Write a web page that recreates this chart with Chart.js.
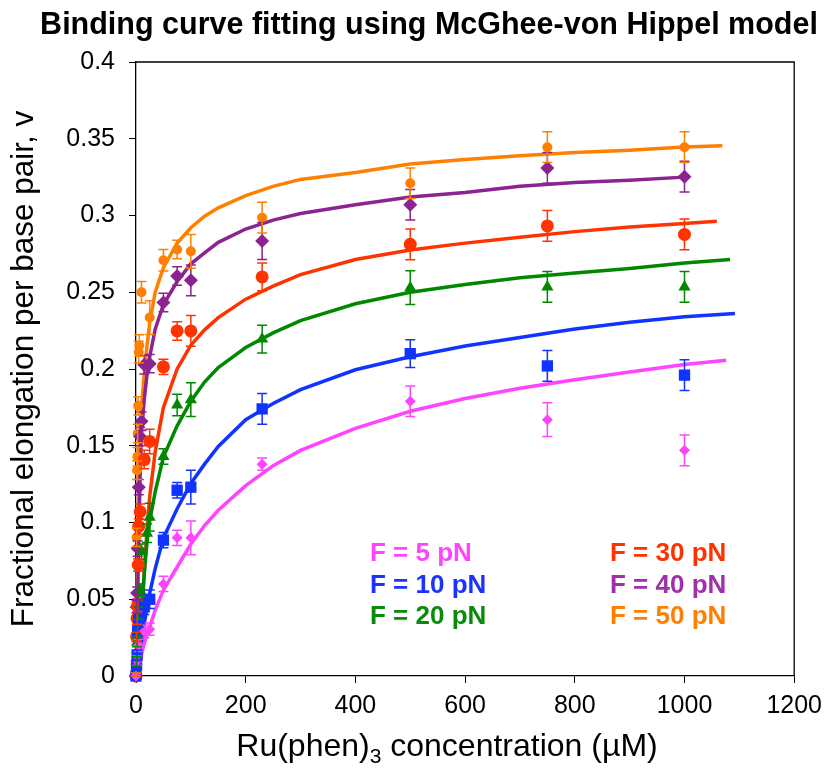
<!DOCTYPE html>
<html>
<head>
<meta charset="utf-8">
<title>Binding curve fitting using McGhee-von Hippel model</title>
<script src="https://cdn.jsdelivr.net/npm/chart.js@4.4.1/dist/chart.umd.min.js"></script>
<style>
  html, body { margin: 0; padding: 0; background: #ffffff; }
  #wrap { width: 830px; height: 772px; }
</style>
</head>
<body>
<div id="wrap"><canvas id="bindingChart" width="830" height="772"></canvas></div>
<script>
const chartTitle = "Binding curve fitting using McGhee-von Hippel model";
const yTitle = "Fractional elongation per base pair, v";
const xTicks = [0, 200, 400, 600, 800, 1000, 1200];
const yTicks = [0, 0.05, 0.1, 0.15, 0.2, 0.25, 0.3, 0.35, 0.4];

const forceLabels = ["F = 5 pN", "F = 10 pN", "F = 20 pN", "F = 30 pN", "F = 40 pN", "F = 50 pN"];
const lineColors = ["#ff44ff", "#1133ff", "#008800", "#ff3300", "#8b2390", "#ff8000"];
const legendColors = ["#ff44ff", "#1a33ff", "#0a8a0a", "#ff3300", "#a030a8", "#ff8000"];
const markerStyles = ["rectRot", "rect", "triangle", "circle", "rectRot", "circle"];
const markerSizes = [5.5, 8, 7, 6.5, 7, 5];

// measured points: concentration (uM), v, error
const conc5 = [0, 2, 5, 15, 25, 50, 75, 100, 230, 500, 750, 1000];
const v5 = [0, 0.01, 0.02, 0.029, 0.0305, 0.06, 0.09, 0.09, 0.138, 0.179, 0.167, 0.147];
const err5 = [0.002, 0.003, 0.004, 0.004, 0.004, 0.005, 0.005, 0.011, 0.004, 0.01, 0.011, 0.01];

const conc10 = [0, 1, 2, 3, 5, 10, 15, 25, 50, 75, 100, 230, 500, 750, 1000];
const v10 = [0, 0.007, 0.0137, 0.029, 0.036, 0.0415, 0.045, 0.05, 0.0885, 0.121, 0.123, 0.174, 0.21, 0.202, 0.196];
const err10 = [0.002, 0.003, 0.003, 0.004, 0.004, 0.004, 0.005, 0.006, 0.005, 0.005, 0.011, 0.01, 0.009, 0.01, 0.01];

const conc20 = [0, 1, 2, 3, 5, 7.5, 10, 20, 25, 50, 75, 100, 230, 500, 750, 1000];
const v20 = [0, 0.0095, 0.022, 0.03, 0.041, 0.056, 0.081, 0.093, 0.1035, 0.143, 0.1765, 0.18, 0.2195, 0.253, 0.2535, 0.2535];
const err20 = [0.002, 0.003, 0.003, 0.004, 0.004, 0.004, 0.005, 0.006, 0.009, 0.005, 0.007, 0.011, 0.009, 0.011, 0.01, 0.01];

const conc30 = [0, 1, 2, 3, 4, 5, 7.5, 15, 25, 50, 75, 100, 230, 500, 750, 1000];
const v30 = [0, 0.0255, 0.0375, 0.046, 0.0723, 0.0975, 0.107, 0.141, 0.1528, 0.2014, 0.2248, 0.2248, 0.26, 0.2812, 0.2932, 0.2877];
const err30 = [0.002, 0.003, 0.004, 0.004, 0.004, 0.005, 0.005, 0.006, 0.008, 0.005, 0.006, 0.01, 0.009, 0.01, 0.01, 0.01];

const conc40 = [0, 1, 2, 3, 5, 7.5, 10, 15, 25, 50, 75, 100, 230, 500, 750, 1000];
const v40 = [0, 0.045, 0.054, 0.083, 0.123, 0.156, 0.166, 0.2028, 0.2035, 0.2433, 0.2606, 0.2578, 0.2834, 0.307, 0.331, 0.3253];
const err40 = [0.002, 0.004, 0.004, 0.005, 0.005, 0.006, 0.006, 0.006, 0.006, 0.006, 0.006, 0.01, 0.012, 0.01, 0.01, 0.01];

const conc50 = [0, 1, 2, 2.5, 3, 4, 5, 6, 10, 25, 50, 75, 100, 230, 500, 750, 1000];
const v50 = [0, 0.0903, 0.134, 0.1428, 0.158, 0.176, 0.2111, 0.2153, 0.25, 0.2335, 0.2708, 0.2778, 0.2767, 0.2986, 0.321, 0.3445, 0.3445];
const err50 = [0.002, 0.006, 0.006, 0.006, 0.006, 0.006, 0.007, 0.007, 0.007, 0.011, 0.007, 0.006, 0.011, 0.01, 0.01, 0.01, 0.01];

// fitted curves
const fitX = [0, 2.5, 5, 7.5, 10, 15, 20, 25, 35, 50, 75, 100, 125, 150, 200, 250, 300, 400, 500, 600, 700, 800, 900, 1000];
const fit5 = [0, 0.002, 0.005, 0.009, 0.014, 0.021, 0.027, 0.032, 0.043, 0.056, 0.071, 0.086, 0.098, 0.108, 0.124, 0.137, 0.147, 0.1613, 0.1725, 0.1808, 0.1875, 0.193, 0.198, 0.203];
const fit10 = [0, 0.001, 0.004, 0.011, 0.019, 0.034, 0.045, 0.054, 0.07, 0.09, 0.109, 0.1255, 0.138, 0.1495, 0.167, 0.1775, 0.1865, 0.1995, 0.208, 0.215, 0.2205, 0.226, 0.2305, 0.234];
const fit20 = [0, 0.003, 0.015, 0.033, 0.045, 0.066, 0.087, 0.101, 0.12, 0.1428, 0.163, 0.179, 0.1915, 0.201, 0.214, 0.2235, 0.2315, 0.2425, 0.25, 0.255, 0.2595, 0.2625, 0.2655, 0.269];
const fit30 = [0, 0.003, 0.01, 0.02, 0.03, 0.068, 0.095, 0.117, 0.146, 0.175, 0.2, 0.2155, 0.2255, 0.2335, 0.2455, 0.254, 0.2615, 0.2713, 0.2775, 0.282, 0.2858, 0.2895, 0.2925, 0.2948];
const fit40 = [0, 0.04, 0.09, 0.13, 0.158, 0.18, 0.196, 0.208, 0.226, 0.242, 0.257, 0.2685, 0.2757, 0.2825, 0.2912, 0.297, 0.3013, 0.307, 0.312, 0.315, 0.319, 0.3215, 0.323, 0.325];
const fit50 = [0, 0.07, 0.13, 0.158, 0.175, 0.197, 0.215, 0.23, 0.25, 0.266, 0.282, 0.292, 0.2995, 0.305, 0.313, 0.319, 0.3235, 0.328, 0.3335, 0.3365, 0.339, 0.341, 0.3425, 0.3447];
const fitEndX = [1076, 1092, 1083, 1059, 1005, 1069];
const fitEndY = [0.2057, 0.2362, 0.2713, 0.2962, 0.3252, 0.3455];

const concs = [conc5, conc10, conc20, conc30, conc40, conc50];
const values = [v5, v10, v20, v30, v40, v50];
const errors = [err5, err10, err20, err30, err40, err50];
const fits = [fit5, fit10, fit20, fit30, fit40, fit50];

const fontFamily = "'Liberation Sans', Arial, sans-serif";

function buildDatasets() {
  const sets = [];
  forceLabels.forEach((label, i) => {
    const curve = fitX.map((x, j) => ({ x, y: fits[i][j] }));
    curve.push({ x: fitEndX[i], y: fitEndY[i] });
    sets.push({
      label: label + " fit",
      data: curve,
      showLine: true,
      borderColor: lineColors[i],
      borderWidth: 3.5,
      pointRadius: 0,
      tension: 0,
      order: 2,
      clip: false,
    });
    sets.push({
      label,
      data: concs[i].map((x, j) => ({ x, y: values[i][j] })),
      errors: errors[i],
      showLine: false,
      pointStyle: markerStyles[i],
      pointRadius: markerSizes[i],
      backgroundColor: lineColors[i],
      borderColor: lineColors[i],
      borderWidth: 0,
      order: 1,
      clip: false,
    });
  });
  return sets;
}

const overlayPlugin = {
  id: "overlay",
  afterDatasetsDraw(chart) {
    const { ctx, scales } = chart;
    chart.data.datasets.forEach(ds => {
      if (!ds.errors) return;
      ctx.save();
      ctx.strokeStyle = ds.borderColor;
      ctx.lineWidth = 1.5;
      ds.data.forEach((p, j) => {
        const px = scales.x.getPixelForValue(p.x);
        const top = scales.y.getPixelForValue(p.y + ds.errors[j]);
        const bot = scales.y.getPixelForValue(Math.max(0, p.y - ds.errors[j]));
        ctx.beginPath();
        ctx.moveTo(px, top); ctx.lineTo(px, bot);
        ctx.moveTo(px - 5, top); ctx.lineTo(px + 5, top);
        ctx.moveTo(px - 5, bot); ctx.lineTo(px + 5, bot);
        ctx.stroke();
      });
      ctx.restore();
    });
  },
  afterDraw(chart) {
    const { ctx, chartArea } = chart;
    ctx.save();
    // top and right frame lines
    ctx.strokeStyle = "#000";
    ctx.lineWidth = 1.3;
    ctx.beginPath();
    ctx.moveTo(chartArea.left, chartArea.top);
    ctx.lineTo(chartArea.right, chartArea.top);
    ctx.lineTo(chartArea.right, chartArea.bottom);
    ctx.stroke();

    // title
    ctx.fillStyle = "#000";
    ctx.textAlign = "center";
    ctx.textBaseline = "alphabetic";
    ctx.font = "bold 30.5px " + fontFamily;
    ctx.fillText(chartTitle, 429, 34);

    // y axis title
    ctx.save();
    ctx.translate(33, (chartArea.top + chartArea.bottom) / 2);
    ctx.rotate(-Math.PI / 2);
    ctx.font = "31.5px " + fontFamily;
    ctx.fillText(yTitle, 0, 0);
    ctx.restore();

    // x axis title with subscript
    const partA = "Ru(phen)";
    const partSub = "3";
    const partB = " concentration (\u00b5M)";
    ctx.font = "32px " + fontFamily;
    const wA = ctx.measureText(partA).width;
    const wB = ctx.measureText(partB).width;
    ctx.font = "21px " + fontFamily;
    const wS = ctx.measureText(partSub).width;
    const x0 = 447 - (wA + wS + wB) / 2;
    const base = 756;
    ctx.textAlign = "left";
    ctx.font = "32px " + fontFamily;
    ctx.fillText(partA, x0, base);
    ctx.font = "21px " + fontFamily;
    ctx.fillText(partSub, x0 + wA, base + 7);
    ctx.font = "32px " + fontFamily;
    ctx.fillText(partB, x0 + wA + wS, base);

    // legend text
    ctx.font = "bold 26px " + fontFamily;
    const cols = [370, 610];
    const rows = [561, 593, 624];
    forceLabels.forEach((label, i) => {
      ctx.fillStyle = legendColors[i];
      ctx.fillText(label, cols[Math.floor(i / 3)], rows[i % 3]);
    });
    ctx.restore();
  }
};

const tickFont = { family: fontFamily, size: 25 };

new Chart(document.getElementById("bindingChart"), {
  type: "scatter",
  data: { datasets: buildDatasets() },
  options: {
    responsive: false,
    animation: false,
    devicePixelRatio: 1,
    layout: { padding: { top: 62, right: 33, left: 0, bottom: 0 } },
    plugins: {
      legend: { display: false },
      tooltip: { enabled: false },
      title: { display: false },
    },
    scales: {
      x: {
        type: "linear",
        min: xTicks[0],
        max: xTicks[xTicks.length - 1],
        afterBuildTicks: scale => { scale.ticks = xTicks.map(v => ({ value: v })); },
        ticks: { color: "#000", font: tickFont, padding: 8, maxRotation: 0, callback: v => String(v) },
        grid: { drawOnChartArea: false, drawTicks: true, tickLength: 7, color: "#000" },
        border: { color: "#000", width: 1.3 },
        afterFit: scale => { scale.height = 96; },
      },
      y: {
        type: "linear",
        min: yTicks[0],
        max: yTicks[yTicks.length - 1],
        afterBuildTicks: scale => { scale.ticks = yTicks.map(v => ({ value: v })); },
        ticks: { color: "#000", font: tickFont, padding: 14, callback: v => String(Number(v.toFixed(2))) },
        grid: { drawOnChartArea: false, drawTicks: true, tickLength: 7, color: "#000" },
        border: { color: "#000", width: 1.3 },
        afterFit: scale => { scale.width = 136; },
      },
    },
  },
  plugins: [overlayPlugin],
});
</script>
</body>
</html>
